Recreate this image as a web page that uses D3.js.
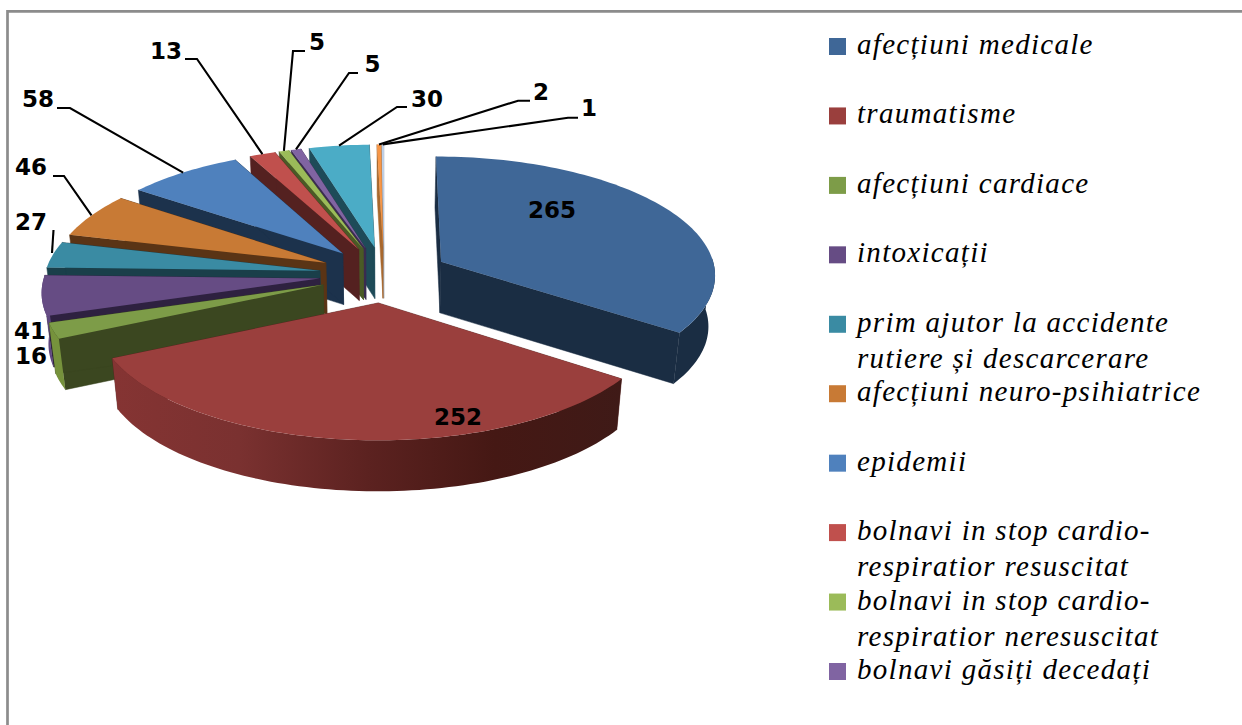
<!DOCTYPE html>
<html><head><meta charset="utf-8">
<script src="https://cdn.jsdelivr.net/npm/d3@7"></script>
<style>html,body{margin:0;padding:0;background:#fff}svg{display:block}</style>
</head><body><svg id="c" width="1242" height="725"></svg>
<script>
const values=[265,252,16,41,27,46,58,13,5,5,30,2,1];
const legendLines=[["afecțiuni medicale"],["traumatisme"],["afecțiuni cardiace"],["intoxicații"],["prim ajutor la accidente","rutiere și descarcerare"],["afecțiuni neuro-psihiatrice"],["epidemii"],["bolnavi in stop cardio-","respiratior resuscitat"],["bolnavi in stop cardio-","respiratior neresuscitat"],["bolnavi găsiți decedați"]];
const topColors=["#3f6797","#9a3f3d","#7d9c48","#664c84","#3a8ba3","#c87a35","#4f81bd","#c0504d","#9bbb59","#8064a2","#4bacc6","#f79646","#bccfe8"];
const sideColors=["#1a2d43","#54201e","#3b4720","#2e2140","#1a3f4a","#5a3415","#1c324c","#542120","#4a5a26","#3a2c50","#1e4b58","#a8682e","#9aa8bc"];
const arcColors=[["#1a2d43","#1a2d43"],["#3f1a17","#451814","#5c2220","#7a3130","#853433"],["#76923c","#76923c"],["#5f4780","#5f4780"],["#2f7488","#2f7488"],["#a8652a","#a8652a"],["#3f6a9c","#3f6a9c"],["#a04240","#a04240"],["#7f9a48","#7f9a48"],["#6a5288","#6a5288"],["#3e90a6","#3e90a6"],["#cf7c38","#cf7c38"],["#9fb0c8","#9fb0c8"]];
const labelPos=[[552,210],[458,417],[31,356],[30,330.5],[31,222],[31,167],[38,99],[166,50.5],[317,42],[372.5,64],[427,99],[541,92],[589,108]];
const leaders=[null,null,null,null,[[53.5,230],[52,253]],[[53,176],[64,176]],[[57,108],[70,108]],[[185,59],[197,59]],[[305,51],[293,51]],[[358,73],[349,73]],[[407,107],[397,107]],[[530,100.7],[518,100.7]],[[578,117.7],[568,117.7]]];
const drawOrder=[12,11,10,9,8,7,6,5,4,3,2,0,1];

const svg=d3.select("#c");
const defs=svg.append("defs");
svg.append("path").attr("d","M7.5,725V11.3H1242").attr("fill","none").attr("stroke","#8c8c8c").attr("stroke-width",2.7);

const Ox=384,Oy=274.5,Rx=275,Ky=118,P=0.098,EXP=0.236,DEPTH=51,TILT=0.98;
const project=(u,v)=>{const s=1/(1+P*v);return [Ox+u*Rx*s,Oy-v*Ky*s];};
const down=p=>[Ox+(p[0]-Ox)*TILT,p[1]+DEPTH];
const arcs=d3.pie().sort(null).value(d=>d)(values);
const line=d3.line();
const g=svg.append("g");
const apexOf=a=>{const m=(a.startAngle+a.endAngle)/2;return [EXP*Math.sin(m),EXP*Math.cos(m)];};
const rim=(a,t)=>{const [au,av]=apexOf(a);return project(au+Math.sin(t),av+Math.cos(t));};

drawOrder.forEach(i=>{
  const a=arcs[i],[au,av]=apexOf(a),apex=project(au,av);
  const n=Math.max(4,Math.ceil((a.endAngle-a.startAngle)*40));
  const ts=d3.range(n+1).map(k=>a.startAngle+(a.endAngle-a.startAngle)*k/n);
  const pts=ts.map(t=>rim(a,t));
  const sg=g.append("g");
  [pts[0],pts[n]].forEach(p=>{
    sg.append("path").attr("d",line([apex,p,down(p),down(apex)])+"Z").attr("fill",sideColors[i]).attr("stroke",sideColors[i]).attr("stroke-width",.5);
  });
  const vis=pts.filter((p,k)=>Math.cos(ts[k])<0.03);
  if(vis.length>1){
    const id="wall"+i, stops=arcColors[i];
    const grad=defs.append("linearGradient").attr("id",id).attr("gradientUnits","userSpaceOnUse")
      .attr("x1",vis[0][0]).attr("y1",0).attr("x2",vis[vis.length-1][0]).attr("y2",0);
    stops.forEach((c,k)=>grad.append("stop").attr("offset",k/(stops.length-1)).attr("stop-color",c));
    const wall=[...vis,...vis.map(down).reverse()];
    sg.append("path").attr("d",line(wall)+"Z").attr("fill",`url(#${id})`);
  }
  sg.append("path").attr("d",line([apex,...pts])+"Z").attr("fill",topColors[i]);
});

leaders.forEach((l,i)=>{
  if(!l)return;
  const a=arcs[i];
  const anchor=rim(a,(a.startAngle+a.endAngle)/2);
  const p = i===4 ? l : [...l,anchor];
  svg.append("path").attr("d",line(p)).attr("fill","none").attr("stroke","#000").attr("stroke-width",2.1);
});
svg.append("g").selectAll("text").data(values).join("text")
  .attr("x",(d,i)=>labelPos[i][0]).attr("y",(d,i)=>labelPos[i][1])
  .attr("text-anchor","middle").attr("dominant-baseline","central")
  .attr("font-family","DejaVu Sans").attr("font-weight","bold").attr("font-size",23)
  .attr("fill","#000").text(d=>d);

const rowY=d3.scaleLinear().domain([0,9]).range([46,671]);
const lg=svg.append("g");
legendLines.forEach((lines,i)=>{
  const y=rowY(i);
  lg.append("rect").attr("x",829).attr("y",y-8).attr("width",17).attr("height",17).attr("fill",topColors[i]);
  lines.forEach((t,j)=>{
    lg.append("text").attr("x",857).attr("y",y+8+j*36).attr("font-family","Liberation Serif").attr("font-style","italic")
      .attr("font-size",29).attr("letter-spacing",1.3).attr("fill","#000").text(t);
  });
});
</script></body></html>
